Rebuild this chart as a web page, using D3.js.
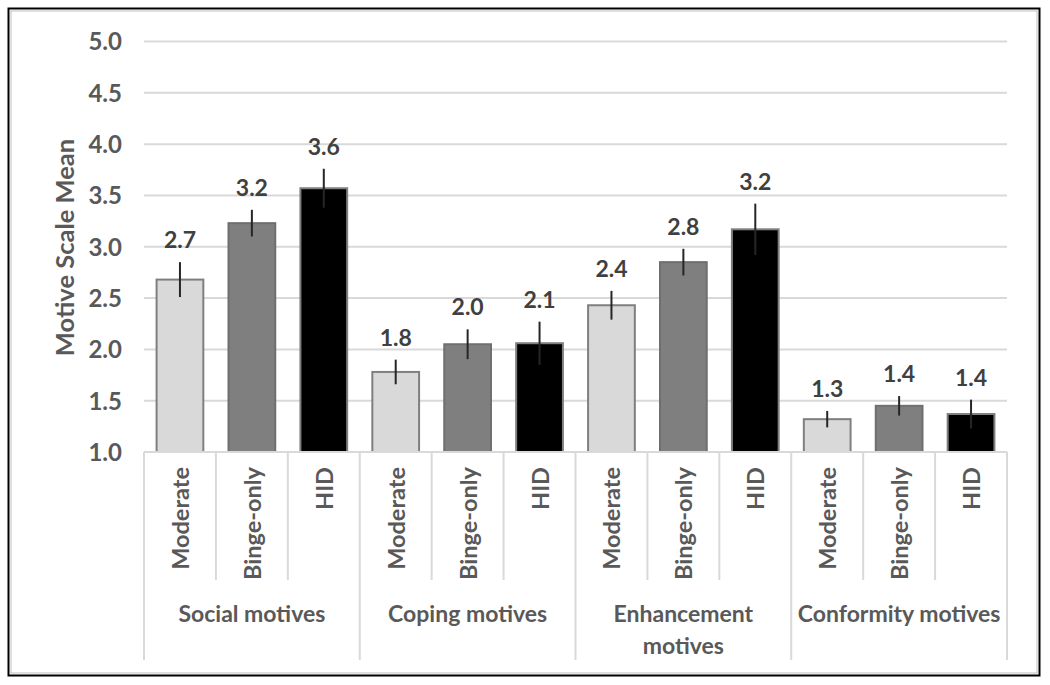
<!DOCTYPE html>
<html><head><meta charset="utf-8">
<script src="https://cdn.jsdelivr.net/npm/d3@7"></script>
<style>body{margin:0;background:#fff;} text{font-family:Lato,"Open Sans",sans-serif;}</style>
</head><body>
<svg id="chart" width="1050" height="685"></svg>
<script>
const groups = ["Social motives","Coping motives","Enhancement motives","Conformity motives"];
const groupLines = [["Social motives"],["Coping motives"],["Enhancement","motives"],["Conformity motives"]];
const subgroups = ["Moderate","Binge-only","HID"];
const moderate = [2.68, 1.78, 2.43, 1.32];
const bingeOnly = [3.23, 2.05, 2.85, 1.45];
const hid = [3.57, 2.06, 3.17, 1.37];
const errModerate = [0.17, 0.12, 0.14, 0.08];
const errBinge = [0.13, 0.145, 0.13, 0.095];
const errHid = [0.19, 0.21, 0.25, 0.14];
const labModerate = ["2.7","1.8","2.4","1.3"];
const labBinge = ["3.2","2.0","2.8","1.4"];
const labHid = ["3.6","2.1","3.2","1.4"];
const yTicks = [1.0,1.5,2.0,2.5,3.0,3.5,4.0,4.5,5.0];
const fills = ["#d9d9d9","#7f7f7f","#000000"];
const strokes = ["#7f7f7f","#6f6f6f","#7f7f7f"];

(function(){
const series = [moderate, bingeOnly, hid];
const errs = [errModerate, errBinge, errHid];
const labs = [labModerate, labBinge, labHid];
const data = [];
groups.forEach((g,gi)=>subgroups.forEach((s,si)=>data.push({g,s,si,v:series[si][gi],e:errs[si][gi],lab:labs[si][gi]})));

const svg = d3.select("#chart");
svg.append("rect").attr("x",8.5).attr("y",8.5).attr("width",1031).attr("height",667)
  .attr("fill","#fff").attr("stroke","#000").attr("stroke-width",2);
svg.append("rect").attr("x",11).attr("y",11).attr("width",1026).attr("height",662)
  .attr("fill","none").attr("stroke","#bfbfbf").attr("stroke-width",1);

const pLeft=144, pRight=1007, pTop=41.5, pBottom=452;
const y = d3.scaleLinear().domain([1,5]).range([pBottom, pTop]);
const x0 = d3.scaleBand().domain(groups).range([pLeft,pRight]).padding(0);
const x1 = d3.scaleBand().domain(subgroups).range([0,x0.bandwidth()]).paddingInner(0.35).paddingOuter(0.175);

svg.append("g").selectAll("line").data(yTicks.slice(1)).join("line")
  .attr("x1",pLeft).attr("x2",pRight).attr("y1",d=>y(d)).attr("y2",d=>y(d))
  .attr("stroke","#d9d9d9").attr("stroke-width",2);

const yAxis = svg.append("g").attr("transform",`translate(${pLeft-22},0)`)
  .call(d3.axisLeft(y).tickValues(yTicks).tickFormat(d3.format(".1f")).tickSize(0).tickPadding(0));
yAxis.select(".domain").remove();
yAxis.selectAll("text").attr("fill","#595959").attr("font-size",24).attr("font-weight","bold")
  .style("font-family","Lato").attr("dy","0.35em");

svg.append("text").attr("transform",`translate(74,${247.5}) rotate(-90)`)
  .attr("text-anchor","middle").attr("fill","#595959").attr("font-size",25.5).attr("font-weight","bold")
  .text("Motive Scale Mean");

const bx = d=>x0(d.g)+x1(d.s);
svg.append("g").selectAll("rect").data(data).join("rect")
  .attr("x",d=>bx(d)).attr("y",d=>y(d.v)).attr("width",x1.bandwidth()).attr("height",d=>y(1)-y(d.v))
  .attr("fill",d=>fills[d.si]).attr("stroke",d=>strokes[d.si]).attr("stroke-width",2);

svg.append("g").selectAll("line").data(data).join("line")
  .attr("x1",d=>bx(d)+x1.bandwidth()/2).attr("x2",d=>bx(d)+x1.bandwidth()/2)
  .attr("y1",d=>y(d.v+d.e)).attr("y2",d=>y(d.v-d.e))
  .attr("stroke","#262626").attr("stroke-width",2);

svg.append("g").selectAll("text").data(data).join("text")
  .attr("x",d=>bx(d)+x1.bandwidth()/2).attr("y",d=>y(d.v+d.e)-14)
  .attr("text-anchor","middle").attr("fill","#404040").attr("font-size",23).attr("font-weight","bold")
  .text(d=>d.lab);

const ax = svg.append("g");
ax.append("line").attr("x1",pLeft).attr("x2",pRight).attr("y1",pBottom).attr("y2",pBottom)
  .attr("stroke","#d9d9d9").attr("stroke-width",2);
groups.forEach((g)=>{
  subgroups.forEach((s,si)=>{
    if(si>0){
      const xx = x0(g)+x1.step()*si;
      ax.append("line").attr("x1",xx).attr("x2",xx).attr("y1",pBottom).attr("y2",580)
        .attr("stroke","#d9d9d9").attr("stroke-width",2);
    }
  });
});
groups.concat([null]).forEach((g)=>{
  const xx = g? x0(g) : pRight;
  ax.append("line").attr("x1",xx).attr("x2",xx).attr("y1",pBottom).attr("y2",660)
    .attr("stroke","#d9d9d9").attr("stroke-width",2);
});
ax.selectAll("text.sub").data(data).join("text").attr("class","sub")
  .attr("transform",d=>`translate(${bx(d)+x1.bandwidth()/2+9},467) rotate(-90)`)
  .attr("text-anchor","end").attr("fill","#595959").attr("font-size",23.5).attr("font-weight","bold")
  .text(d=>d.s);
groups.forEach((g,gi)=>{
  const cx = x0(g)+x0.bandwidth()/2;
  const t = ax.append("text").attr("x",cx).attr("y",622)
    .attr("text-anchor","middle").attr("fill","#595959").attr("font-size",23).attr("font-weight","bold");
  groupLines[gi].forEach((ln,li)=>t.append("tspan").attr("x",cx).attr("dy",li?32:0).text(ln));
});
})();
</script>
</body></html>
